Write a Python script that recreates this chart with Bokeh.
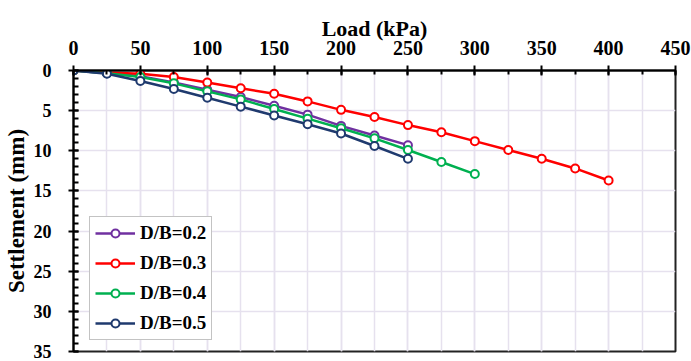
from bokeh.plotting import figure
from bokeh.models import Range1d, FixedTicker, SingleIntervalTicker
from bokeh.embed import file_html
from bokeh.resources import INLINE

load_02 = [0, 25, 50, 75, 100, 125, 150, 175, 200, 225, 250]
set_02 = [0, 0.35, 0.7, 1.5, 2.4, 3.3, 4.4, 5.5, 6.9, 8.1, 9.3]

load_03 = [0, 25, 50, 75, 100, 125, 150, 175, 200, 225, 250, 275, 300, 325, 350, 375, 400]
set_03 = [0, 0.25, 0.4, 0.8, 1.5, 2.2, 2.9, 3.85, 4.9, 5.8, 6.8, 7.7, 8.8, 9.9, 11.0, 12.2, 13.7]

load_04 = [0, 25, 50, 75, 100, 125, 150, 175, 200, 225, 250, 275, 300]
set_04 = [0, 0.35, 0.8, 1.6, 2.6, 3.6, 4.8, 6.0, 7.2, 8.45, 9.9, 11.4, 12.9]

load_05 = [0, 25, 50, 75, 100, 125, 150, 175, 200, 225, 250]
set_05 = [0, 0.4, 1.3, 2.3, 3.4, 4.5, 5.6, 6.7, 7.85, 9.4, 11.0]

series = [
    ("D/B=0.2", load_02, set_02, "#7030A0"),
    ("D/B=0.3", load_03, set_03, "#FF0000"),
    ("D/B=0.4", load_04, set_04, "#00B050"),
    ("D/B=0.5", load_05, set_05, "#1F3A6E"),
]

x_ticks = list(range(0, 451, 50))
x_minor = list(range(0, 451, 25))

FONT = "'Liberation Serif', 'Times New Roman', serif"

p = figure(width=691, height=361, output_backend="svg", toolbar_location=None,
           x_axis_location="above",
           x_range=Range1d(0, 450), y_range=Range1d(35, 0),
           min_border_left=73, min_border_right=16, min_border_top=70, min_border_bottom=10)

p.background_fill_color = "white"
p.border_fill_color = "white"
p.outline_line_color = "#222222"
p.outline_line_width = 2

for label, xs, ys, col in series:
    p.line(xs, ys, line_color=col, line_width=2.5, legend_label=label)
    p.scatter(xs, ys, marker="circle", size=8, fill_color="white", line_color=col,
              line_width=2, legend_label=label)

# X axis (above)
xa = p.xaxis[0]
xa.ticker = FixedTicker(ticks=x_ticks, minor_ticks=x_minor)
xa.axis_label = "Load (kPa)"
xa.axis_label_text_font = FONT
xa.axis_label_text_font_style = "bold"
xa.axis_label_text_font_size = "22px"
xa.axis_label_text_color = "black"
xa.axis_label_standoff = -3
xa.major_label_text_font = FONT
xa.major_label_text_font_style = "bold"
xa.major_label_text_font_size = "20px"
xa.major_label_text_color = "black"
xa.major_label_standoff = 11
xa.axis_line_color = "black"
xa.axis_line_width = 2
xa.major_tick_line_color = "black"
xa.major_tick_line_width = 2
xa.major_tick_in = 5
xa.major_tick_out = 5
xa.minor_tick_line_color = "black"
xa.minor_tick_line_width = 2
xa.minor_tick_in = 4
xa.minor_tick_out = 0

# Y axis (left)
ya = p.yaxis[0]
ya.ticker = SingleIntervalTicker(interval=5, num_minor_ticks=5)
ya.axis_label = "Settlement (mm)"
ya.axis_label_text_font = FONT
ya.axis_label_text_font_style = "bold"
ya.axis_label_text_font_size = "23px"
ya.axis_label_text_color = "black"
ya.axis_label_standoff = 2
ya.major_label_text_font = FONT
ya.major_label_text_font_style = "bold"
ya.major_label_text_font_size = "18px"
ya.major_label_text_color = "black"
ya.major_label_standoff = 17
ya.axis_line_color = "black"
ya.axis_line_width = 2
ya.major_tick_line_color = "black"
ya.major_tick_line_width = 2
ya.major_tick_in = 5
ya.major_tick_out = 5
ya.minor_tick_line_color = "black"
ya.minor_tick_line_width = 2
ya.minor_tick_in = 5
ya.minor_tick_out = 0

# Grid
p.xgrid.grid_line_color = "#E6E1EE"
p.xgrid.grid_line_width = 1.5
p.xgrid.minor_grid_line_color = "#E6E1EE"
p.xgrid.minor_grid_line_width = 1.5
p.ygrid.grid_line_color = "#E6E1EE"
p.ygrid.grid_line_width = 1.5

# Legend
lg = p.legend[0]
lg.location = (16, 11)
lg.margin = 0
lg.padding = 5
lg.spacing = 8
lg.glyph_width = 40
lg.glyph_height = 20
lg.label_standoff = 5
lg.label_text_font = FONT
lg.label_text_font_style = "bold"
lg.label_text_font_size = "19px"
lg.label_text_color = "black"
lg.border_line_color = "#888888"
lg.border_line_width = 1
lg.background_fill_color = "white"
lg.background_fill_alpha = 1

open("out.html", "w").write(file_html(p, INLINE))
